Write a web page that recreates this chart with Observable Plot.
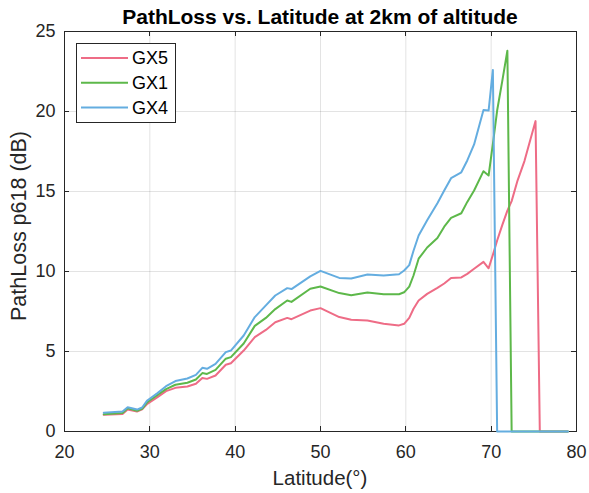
<!DOCTYPE html>
<html>
<head>
<meta charset="utf-8">
<script src="https://cdn.jsdelivr.net/npm/d3@7"></script>
<script src="https://cdn.jsdelivr.net/npm/@observablehq/plot@0.6"></script>
<style>
  html, body { margin: 0; padding: 0; background: white; }
</style>
</head>
<body>
<div id="chart"></div>
<script>
const lat = [24.6, 26.8, 27.4, 28.5, 29.1, 29.7, 30.9, 31.9, 33.0, 34.4, 35.4, 36.15, 36.7, 37.7, 38.9, 39.5, 41.0, 42.3, 43.6, 44.7, 46.1, 46.6, 48.8, 50.0, 52.2, 53.6, 55.5, 57.4, 59.2, 59.8, 60.4, 60.9, 61.5, 62.5, 63.7, 64.5, 65.3, 66.5, 67.2, 68.0, 69.1, 69.7, 70.2, 70.7, 71.3, 71.9, 72.4, 73.1, 73.9, 75.2, 75.7, 79.0];
const gx5 = [1.04, 1.10, 1.38, 1.25, 1.38, 1.73, 2.15, 2.52, 2.73, 2.81, 2.98, 3.35, 3.29, 3.50, 4.17, 4.27, 5.06, 5.90, 6.35, 6.83, 7.10, 7.02, 7.56, 7.71, 7.15, 6.98, 6.94, 6.73, 6.63, 6.73, 7.10, 7.67, 8.19, 8.60, 8.98, 9.25, 9.60, 9.63, 9.85, 10.17, 10.60, 10.20, 11.04, 11.94, 12.90, 13.80, 14.40, 15.70, 16.90, 19.40, 0, 0];
const gx1 = [1.08, 1.15, 1.45, 1.30, 1.42, 1.83, 2.28, 2.65, 2.92, 3.05, 3.25, 3.65, 3.60, 3.85, 4.55, 4.65, 5.50, 6.60, 7.10, 7.65, 8.19, 8.10, 8.92, 9.06, 8.65, 8.52, 8.69, 8.58, 8.58, 8.70, 9.06, 9.75, 10.80, 11.50, 12.10, 12.80, 13.35, 13.64, 14.35, 15.06, 16.27, 16.00, 17.98, 20.06, 21.90, 23.80, 0, 0, 0, 0, 0, 0];
const gx4 = [1.17, 1.25, 1.52, 1.37, 1.50, 1.94, 2.40, 2.83, 3.15, 3.31, 3.54, 3.98, 3.92, 4.23, 4.96, 5.06, 6.00, 7.15, 7.88, 8.50, 8.96, 8.90, 9.70, 10.04, 9.60, 9.56, 9.81, 9.75, 9.83, 10.06, 10.40, 11.30, 12.25, 13.20, 14.27, 15.06, 15.83, 16.20, 16.94, 17.94, 20.10, 20.06, 22.60, 0, 0, 0, 0, 0, 0, 0, 0, 0];
const seriesNames = ["GX5", "GX1", "GX4"];
const seriesValues = [gx5, gx1, gx4];
const seriesColors = ["#EE6C86", "#5DB84A", "#64ADE0"];
const xTicks = [20, 30, 40, 50, 60, 70, 80];
const yTicks = [0, 5, 10, 15, 20, 25];
const titleText = "PathLoss vs. Latitude at 2km of altitude";
const xLabel = "Latitude(°)";
const yLabel = "PathLoss p618 (dB)";

const rows = seriesNames.flatMap((s, i) => lat.map((x, j) => ({lat: x, v: seriesValues[i][j], s})));

const W = 589, H = 493;
const mL = 64, mR = 13, mT = 31, mB = 62;
const axisColor = "#262626";
const font = "'Liberation Sans', Arial, Helvetica, sans-serif";

const plot = Plot.plot({
  width: W, height: H,
  marginLeft: mL, marginRight: mR, marginTop: mT, marginBottom: mB,
  style: {fontFamily: font, background: "white", color: axisColor},
  x: {domain: [20, 80], ticks: xTicks},
  y: {domain: [0, 25], ticks: yTicks},
  color: {domain: seriesNames, range: seriesColors},
  marks: [
    Plot.gridX(xTicks, {stroke: axisColor, strokeOpacity: 0.13, strokeWidth: 1}),
    Plot.gridY(yTicks, {stroke: axisColor, strokeOpacity: 0.13, strokeWidth: 1}),
    Plot.axisX(xTicks, {tickSize: 0, tickPadding: 14, fontSize: 18, label: null, fill: axisColor}),
    Plot.axisY(yTicks, {tickSize: 0, tickPadding: 9, fontSize: 18, label: null, fill: axisColor}),
    Plot.frame({stroke: axisColor, strokeWidth: 1}),
    Plot.line(rows, {x: "lat", y: "v", z: "s", stroke: "s", strokeWidth: 2, strokeLinejoin: "round"})
  ]
});

document.getElementById("chart").appendChild(plot);

const svg = d3.select(plot);
const xs = plot.scale("x"), ys = plot.scale("y");
const fx0 = mL, fx1 = W - mR, fy0 = mT, fy1 = H - mB;
const tl = 5;
const tg = svg.append("g").attr("stroke", axisColor).attr("stroke-width", 1);
xTicks.forEach(t => {
  const px = Math.round(xs.apply(t)) + 0.5;
  tg.append("line").attr("x1", px).attr("x2", px).attr("y1", fy1).attr("y2", fy1 - tl);
  tg.append("line").attr("x1", px).attr("x2", px).attr("y1", fy0).attr("y2", fy0 + tl);
});
yTicks.forEach(t => {
  const py = Math.round(ys.apply(t)) + 0.5;
  tg.append("line").attr("x1", fx0).attr("x2", fx0 + tl).attr("y1", py).attr("y2", py);
  tg.append("line").attr("x1", fx1).attr("x2", fx1 - tl).attr("y1", py).attr("y2", py);
});

// title and axis labels
svg.append("text").text(titleText)
  .attr("x", (fx0 + fx1) / 2).attr("y", 24)
  .attr("text-anchor", "middle").attr("font-weight", "bold")
  .attr("font-size", 21).attr("font-family", font).attr("fill", "#000");
svg.append("text").text(xLabel)
  .attr("x", (fx0 + fx1) / 2).attr("y", 485)
  .attr("text-anchor", "middle").attr("font-size", 20.5).attr("font-family", font).attr("fill", axisColor);
svg.append("text").text(yLabel)
  .attr("transform", `translate(26,226) rotate(-90)`)
  .attr("text-anchor", "middle").attr("font-size", 21.5).attr("font-family", font).attr("fill", axisColor);

// legend
const lg = svg.append("g").attr("transform", `translate(${fx0 + 12},${fy0 + 12})`);
lg.append("rect").attr("x", 0.5).attr("y", 0.5).attr("width", 99).attr("height", 79)
  .attr("fill", "white").attr("stroke", axisColor).attr("stroke-width", 1);
seriesNames.forEach((s, i) => {
  const yy = 15 + i * 24.8;
  lg.append("line").attr("x1", 5).attr("x2", 52).attr("y1", yy).attr("y2", yy)
    .attr("stroke", seriesColors[i]).attr("stroke-width", 2);
  lg.append("text").text(s).attr("x", 56).attr("y", yy).attr("dy", "0.35em")
    .attr("text-anchor", "start")
    .attr("font-size", 18).attr("font-family", font).attr("fill", "#000");
});
</script>
</body>
</html>
